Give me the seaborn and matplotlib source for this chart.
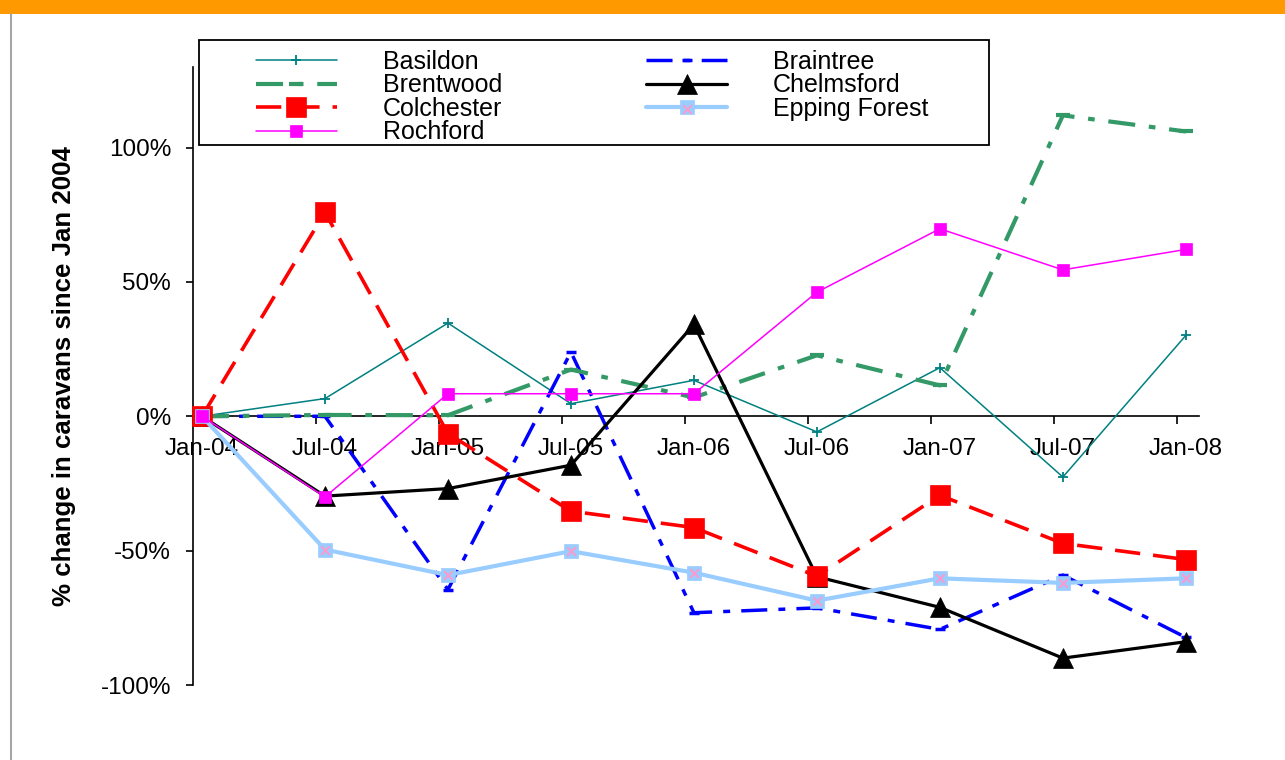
import numpy as np
import pandas as pd
import matplotlib
matplotlib.use("Agg")
import matplotlib.pyplot as plt
from matplotlib.patches import Rectangle
from matplotlib.lines import Line2D
from matplotlib.ticker import FixedLocator
from matplotlib.legend_handler import HandlerTuple
import seaborn as sns

# ---------------- data (percent change since Jan 2004) ----------------
categories = ["Jan-04", "Jul-04", "Jan-05", "Jul-05", "Jan-06",
              "Jul-06", "Jan-07", "Jul-07", "Jan-08"]
y_ticks = [-100, -50, 0, 50, 100]
y_tick_labels = ["-100%", "-50%", "0%", "50%", "100%"]
y_label = "% change in caravans since Jan 2004"

basildon = [0, 6.6, 34.7, 4.7, 13.4, -5.8, 18.1, -22.6, 30.1]
braintree = [0, 0, -64.5, 23.9, -73.1, -71.3, -79.3, -59.1, -82.3]
brentwood = [0, 0.5, 0.4, 17.4, 7.0, 22.7, 11.5, 112.0, 106.0]
chelmsford = [0, -29.7, -26.9, -18.2, 34.2, -59.7, -71.1, -90.0, -83.9]
colchester = [0, 75.9, -6.4, -35.3, -41.4, -59.5, -29.4, -47.3, -53.3]
epping_forest = [0, -49.6, -59.1, -50.2, -58.2, -68.6, -60.3, -62.0, -60.3]
rochford = [0, -30.0, 8.4, 8.4, 8.4, 46.2, 69.8, 54.5, 62.1]

# ---------------- style ----------------
sns.set_theme(style="white")
plt.rcParams["font.family"] = ["Liberation Sans", "DejaVu Sans"]
plt.rcParams["text.color"] = "black"
plt.rcParams["axes.labelcolor"] = "black"
plt.rcParams["xtick.color"] = "black"
plt.rcParams["ytick.color"] = "black"

fig = plt.figure(figsize=(12.85, 7.6), dpi=100)
ax = fig.add_axes([193 / 1285, 1 - 685 / 760, 1006 / 1285, 618 / 760])

pos = np.arange(len(categories))
xdata = pos + 0.073

styles = {
    "Basildon": dict(data=basildon, color="#008080", lw=1.1, ls="-",
                     marker="+", ms=7.5, mew=1.3, z=3),
    "Braintree": dict(data=braintree, color="#0000FF", lw=2.5,
                      ls=(0, (7.5, 3.2, 2.0, 3.2)), marker="_", ms=7, mew=2.5, z=4),
    "Brentwood": dict(data=brentwood, color="#339966", lw=3.0,
                      ls=(0, (6.5, 3.3, 1.6, 3.3)), marker="_", ms=10, mew=3.0, z=5),
    "Chelmsford": dict(data=chelmsford, color="#000000", lw=2.3, ls="-",
                       marker="^", ms=15, mew=0.5, z=6),
    "Colchester": dict(data=colchester, color="#FF0000", lw=2.6,
                       ls=(0, (7.0, 3.6)), marker="s", ms=15, mew=0.5, z=7),
    "Epping Forest": dict(data=epping_forest, color="#99CCFF", lw=3.0, ls="-",
                          marker="s", ms=9.5, mew=0.5, z=8),
    "Rochford": dict(data=rochford, color="#FF00FF", lw=1.1, ls="-",
                     marker="s", ms=8.5, mew=0.5, z=9),
}

handles = {}
for name, st in styles.items():
    df = pd.DataFrame({"x": xdata, "y": st["data"]})
    sns.lineplot(data=df, x="x", y="y", ax=ax, color=st["color"],
                 linewidth=st["lw"], linestyle=st["ls"], marker=st["marker"],
                 markersize=st["ms"], markeredgewidth=st["mew"],
                 markeredgecolor=st["color"], markerfacecolor=st["color"],
                 zorder=st["z"], clip_on=False, legend=False, sort=False)
    handles[name] = ax.lines[-1]

# pink crosses inside the Epping Forest markers
df_ep = pd.DataFrame({"x": xdata, "y": epping_forest})
sns.scatterplot(data=df_ep, x="x", y="y", ax=ax, marker="x", s=38,
                color="#FF99CC", linewidth=1.4, zorder=8.5, clip_on=False,
                legend=False)
ep_cross = ax.collections[-1]

if ax.get_legend() is not None:
    ax.get_legend().remove()

# ---------------- axes ----------------
ax.set_xlim(0, 8.18)
ax.set_ylim(-100, 130)
ax.spines["top"].set_visible(False)
ax.spines["right"].set_visible(False)
ax.spines["bottom"].set_position(("data", 0))
for s in ("left", "bottom"):
    ax.spines[s].set_color("black")
    ax.spines[s].set_linewidth(1.2)
    ax.spines[s].set_zorder(2.5)

ax.set_xticks(xdata)
ax.set_xticklabels(categories)
ax.xaxis.set_minor_locator(FixedLocator(pos))
ax.tick_params(axis="x", which="major", length=0, pad=15.5, labelsize=17.5,
               bottom=True, labelcolor="black")
ax.tick_params(axis="x", which="minor", length=6, width=1.2, direction="out",
               bottom=True, color="black")

ax.set_yticks(y_ticks)
ax.set_yticklabels(y_tick_labels)
ax.tick_params(axis="y", which="major", length=5, width=1.2, direction="out",
               left=True, pad=10.8, labelsize=17.5, color="black",
               labelcolor="black")

ax.set_xlabel("")
ax.set_ylabel(y_label, fontsize=18.6, fontweight="bold", color="black")
ax.yaxis.set_label_coords(-0.1163, 0.5)
ax.grid(False)

# ---------------- decorations ----------------
fig.patches.append(Rectangle((0, 1 - 14 / 760), 1, 14 / 760,
                             transform=fig.transFigure, facecolor="#FF9900",
                             edgecolor="none", zorder=0))
fig.lines.append(Line2D([11 / 1285, 11 / 1285], [0, 1 - 14 / 760],
                        transform=fig.transFigure, color="#A6A6A6", lw=1.5))
fig.patches.append(Rectangle((199 / 1285, 1 - 145 / 760), 790 / 1285, 105 / 760,
                             transform=fig.transFigure, facecolor="white",
                             edgecolor="black", linewidth=1.3, zorder=3))

# ---------------- legend ----------------
order = ["Basildon", "Brentwood", "Colchester", "Rochford",
         "Braintree", "Chelmsford", "Epping Forest"]
leg_handles = [handles[n] if n != "Epping Forest" else (handles[n], ep_cross)
               for n in order]
leg = fig.legend(leg_handles, order, loc="upper left",
                 bbox_to_anchor=(256 / 1285, 0.9345), ncol=2, frameon=False,
                 fontsize=18, borderpad=0, borderaxespad=0,
                 handlelength=3.23, handletextpad=1.85, columnspacing=5.75,
                 labelspacing=-0.02, numpoints=1,
                 handler_map={tuple: HandlerTuple(ndivide=1)})
for t in leg.get_texts():
    t.set_color("black")
leg.set_zorder(5)

fig.savefig("out.png", dpi=100, facecolor="white")
